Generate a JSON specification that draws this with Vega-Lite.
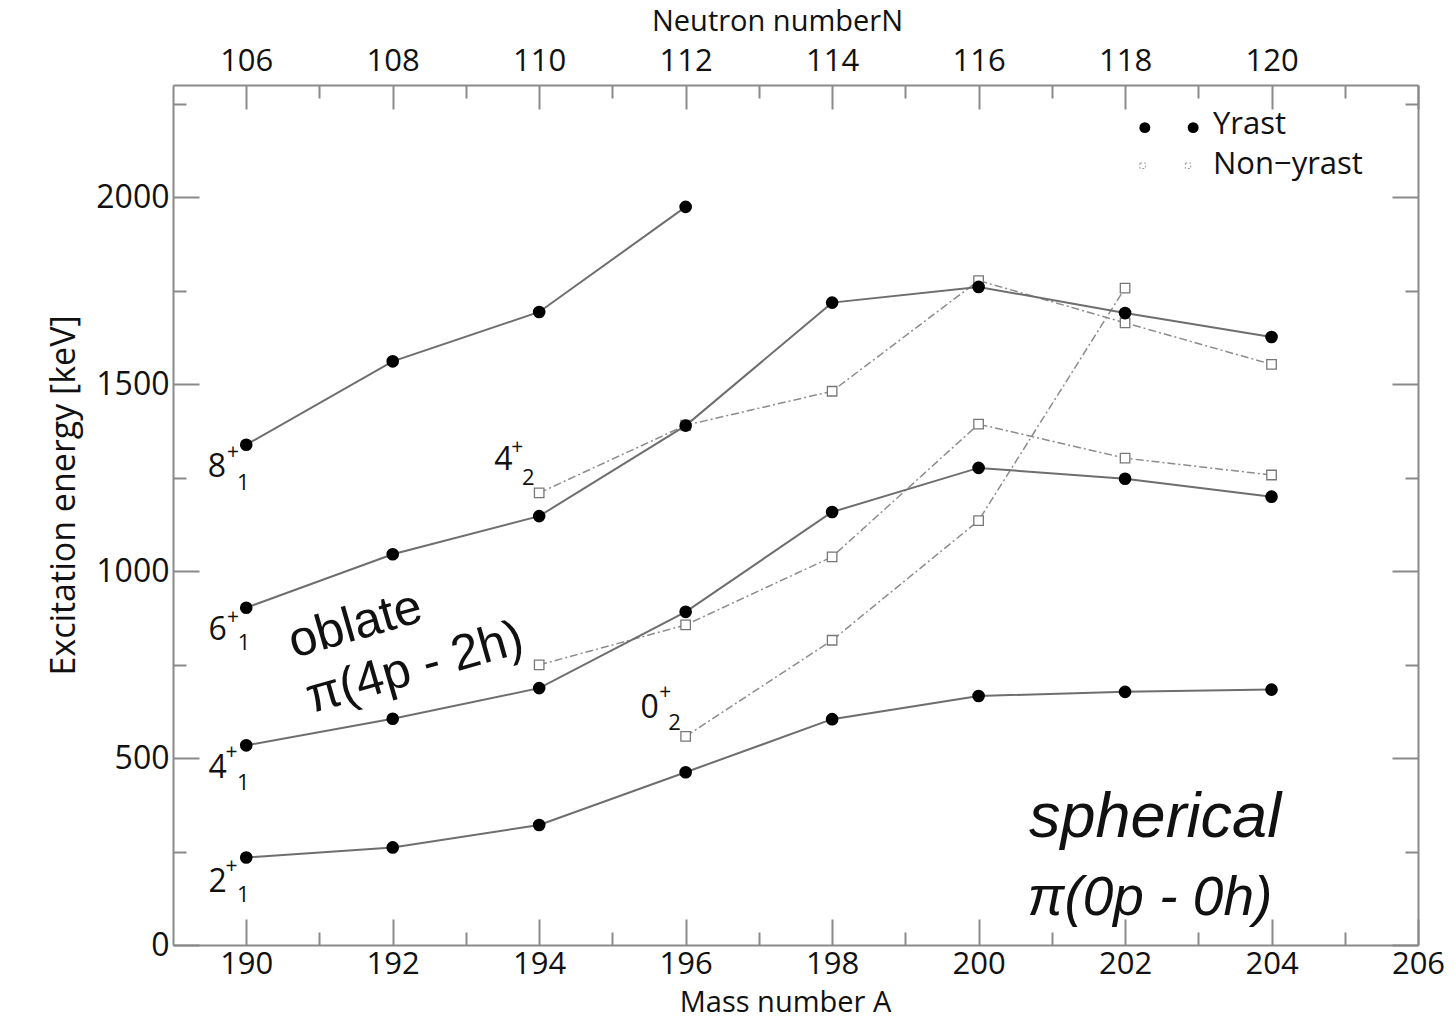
{
  "$schema": "https://vega.github.io/schema/vega-lite/v6.json",
  "width": 1245,
  "height": 860,
  "autosize": {"type": "none"},
  "padding": {"left": 173, "top": 85, "right": 37, "bottom": 76},
  "background": "white",
  "config": {
    "view": {"stroke": null},
    "axis": {
      "grid": false,
      "domainColor": "#8a8a8a",
      "domainWidth": 2,
      "tickColor": "#8a8a8a",
      "tickWidth": 2,
      "labelFont": "Open Sans",
      "labelFontSize": 32,
      "labelColor": "#111111",
      "labelFlush": false,
      "labelOverlap": false,
      "titleFont": "Open Sans",
      "titleFontSize": 30,
      "titleFontWeight": "normal",
      "titleColor": "#111111"
    }
  },
  "datasets": {
    "yrast": [
      {"A": 190, "E": 234, "band": "2+1"}, {"A": 192, "E": 261, "band": "2+1"}, {"A": 194, "E": 321, "band": "2+1"}, {"A": 196, "E": 462, "band": "2+1"},
      {"A": 198, "E": 604, "band": "2+1"}, {"A": 200, "E": 666, "band": "2+1"}, {"A": 202, "E": 677, "band": "2+1"}, {"A": 204, "E": 683, "band": "2+1"},
      {"A": 190, "E": 534, "band": "4+1"}, {"A": 192, "E": 605, "band": "4+1"}, {"A": 194, "E": 687, "band": "4+1"}, {"A": 196, "E": 891, "band": "4+1"},
      {"A": 198, "E": 1158, "band": "4+1"}, {"A": 200, "E": 1276, "band": "4+1"}, {"A": 202, "E": 1247, "band": "4+1"}, {"A": 204, "E": 1199, "band": "4+1"},
      {"A": 190, "E": 902, "band": "6+1"}, {"A": 192, "E": 1045, "band": "6+1"}, {"A": 194, "E": 1147, "band": "6+1"}, {"A": 196, "E": 1389, "band": "6+1"},
      {"A": 198, "E": 1718, "band": "6+1"}, {"A": 200, "E": 1760, "band": "6+1"}, {"A": 202, "E": 1690, "band": "6+1"}, {"A": 204, "E": 1626, "band": "6+1"},
      {"A": 190, "E": 1338, "band": "8+1"}, {"A": 192, "E": 1561, "band": "8+1"}, {"A": 194, "E": 1693, "band": "8+1"}, {"A": 196, "E": 1974, "band": "8+1"}
    ],
    "nonyrast": [
      {"A": 194, "E": 1209, "band": "4+2"}, {"A": 196, "E": 1390, "band": "4+2"}, {"A": 198, "E": 1481, "band": "4+2"},
      {"A": 200, "E": 1777, "band": "4+2"}, {"A": 202, "E": 1664, "band": "4+2"}, {"A": 204, "E": 1553, "band": "4+2"},
      {"A": 194, "E": 749, "band": "x"}, {"A": 196, "E": 856, "band": "x"}, {"A": 198, "E": 1038, "band": "x"},
      {"A": 200, "E": 1393, "band": "x"}, {"A": 202, "E": 1302, "band": "x"}, {"A": 204, "E": 1257, "band": "x"},
      {"A": 196, "E": 558, "band": "0+2"}, {"A": 198, "E": 815, "band": "0+2"}, {"A": 200, "E": 1135, "band": "0+2"}, {"A": 202, "E": 1757, "band": "0+2"}
    ],
    "stateMain": [
      {"A": 189.6, "E": 1278, "t": "8"},
      {"A": 189.61, "E": 842, "t": "6"},
      {"A": 189.61, "E": 473, "t": "4"},
      {"A": 189.61, "E": 168, "t": "2"},
      {"A": 193.51, "E": 1297, "t": "4"},
      {"A": 195.51, "E": 634, "t": "0"}
    ],
    "stateSup": [
      {"A": 189.82, "E": 1316, "t": "+"},
      {"A": 189.82, "E": 874, "t": "+"},
      {"A": 189.8, "E": 513, "t": "+"},
      {"A": 189.8, "E": 209, "t": "+"},
      {"A": 193.7, "E": 1329, "t": "+"},
      {"A": 195.72, "E": 674, "t": "+"}
    ],
    "stateSub": [
      {"A": 189.96, "E": 1235, "t": "1"},
      {"A": 189.97, "E": 807, "t": "1"},
      {"A": 189.96, "E": 433, "t": "1"},
      {"A": 189.96, "E": 134, "t": "1"},
      {"A": 193.85, "E": 1249, "t": "2"},
      {"A": 195.85, "E": 594, "t": "2"}
    ],
    "oblate": [
      {"A": 191.49, "E": 856, "t": "oblate"},
      {"A": 192.3, "E": 741, "t": "π(4p - 2h)"}
    ],
    "spherical1": [{"A": 202.41, "E": 340, "t": "spherical"}],
    "spherical2": [{"A": 202.34, "E": 126, "t": "π(0p - 0h)"}],
    "legendYrast": [{"A": 202.27, "E": 2186}, {"A": 202.93, "E": 2186}],
    "legendNon": [{"A": 202.24, "E": 2084}, {"A": 202.86, "E": 2084}],
    "legendText": [{"A": 203.2, "E": 2193, "t": "Yrast"}, {"A": 203.2, "E": 2087, "t": "Non−yrast"}]
  },
  "layer": [
    {
      "data": {"name": "nonyrast"},
      "mark": {"type": "line", "color": "#8c8c8c", "strokeWidth": 1.5, "strokeDash": [8, 3, 2, 3]},
      "encoding": {
        "x": {"field": "A", "type": "quantitative", "scale": {"domain": [189, 206], "nice": false, "zero": false},
              "axis": {"orient": "bottom", "values": [190, 192, 194, 196, 198, 200, 202, 204, 206], "format": "d", "ticks": false, "domain": true, "labelPadding": 4, "labelFontSize": 31, "title": "Mass number A", "titleFontSize": 29, "titlePadding": 9, "titleX": 612}},
        "y": {"field": "E", "type": "quantitative", "scale": {"domain": [0, 2300], "nice": false, "zero": false},
              "axis": {"orient": "left", "values": [0, 500, 1000, 1500, 2000], "format": "d", "ticks": false, "domain": true, "labelPadding": 4, "title": "Excitation energy [keV]", "titleFontSize": 34, "titlePadding": 14, "titleY": 410}},
        "detail": {"field": "band"}
      }
    },
    {
      "data": {"name": "nonyrast"},
      "mark": {"type": "point", "shape": "square", "size": 90, "filled": true, "fill": "white", "stroke": "#777777", "strokeWidth": 1.3, "opacity": 1},
      "encoding": {
        "x": {"field": "A", "type": "quantitative", "scale": {"domain": [189, 206], "nice": false, "zero": false},
              "axis": {"orient": "bottom", "values": [190, 192, 194, 196, 198, 200, 202, 204, 206], "labels": false, "domain": false, "tickSize": -26, "title": null}},
        "y": {"field": "E", "type": "quantitative", "scale": {"domain": [0, 2300], "nice": false, "zero": false},
              "axis": {"orient": "left", "values": [0, 500, 1000, 1500, 2000], "labels": false, "domain": false, "tickSize": -26, "title": null}}
      }
    },
    {
      "data": {"name": "yrast"},
      "mark": {"type": "line", "color": "#6e6e6e", "strokeWidth": 2},
      "encoding": {
        "x": {"field": "A", "type": "quantitative", "scale": {"domain": [189, 206], "nice": false, "zero": false},
              "axis": {"orient": "bottom", "values": [191, 193, 195, 197, 199, 201, 203, 205], "labels": false, "domain": false, "tickSize": -13, "title": null}},
        "y": {"field": "E", "type": "quantitative", "scale": {"domain": [0, 2300], "nice": false, "zero": false},
              "axis": {"orient": "left", "values": [250, 750, 1250, 1750, 2250], "labels": false, "domain": false, "tickSize": -13, "title": null}},
        "detail": {"field": "band"}
      }
    },
    {
      "data": {"name": "yrast"},
      "mark": {"type": "point", "shape": "circle", "size": 160, "filled": true, "color": "#000000", "opacity": 1},
      "encoding": {
        "x": {"field": "A", "type": "quantitative", "scale": {"domain": [189, 206], "nice": false, "zero": false},
              "axis": {"orient": "top", "values": [190, 192, 194, 196, 198, 200, 202, 204], "labelExpr": "format(datum.value - 84, 'd')", "labelDx": 7, "ticks": false, "domain": true, "labelPadding": 8, "labelFontSize": 31, "title": "Neutron numberN", "titleFontSize": 29, "titlePadding": 9, "titleX": 604}},
        "y": {"field": "E", "type": "quantitative", "scale": {"domain": [0, 2300], "nice": false, "zero": false},
              "axis": {"orient": "right", "values": [0, 500, 1000, 1500, 2000], "labels": false, "domain": true, "tickSize": -26, "title": null}}
      }
    },
    {
      "data": {"name": "stateMain"},
      "mark": {"type": "text", "font": "Open Sans", "fontSize": 32, "color": "#111111", "align": "center", "baseline": "middle"},
      "encoding": {
        "x": {"field": "A", "type": "quantitative", "scale": {"domain": [189, 206], "nice": false, "zero": false},
              "axis": {"orient": "top", "values": [190, 192, 194, 196, 198, 200, 202, 204, 206], "labels": false, "domain": false, "tickSize": -24, "title": null}},
        "y": {"field": "E", "type": "quantitative", "scale": {"domain": [0, 2300], "nice": false, "zero": false},
              "axis": {"orient": "right", "values": [250, 750, 1250, 1750, 2250], "labels": false, "domain": false, "tickSize": -13, "title": null}},
        "text": {"field": "t"}
      }
    },
    {
      "data": {"name": "stateSup"},
      "mark": {"type": "text", "font": "Open Sans", "fontSize": 21, "color": "#111111", "align": "center", "baseline": "middle"},
      "encoding": {
        "x": {"field": "A", "type": "quantitative", "scale": {"domain": [189, 206], "nice": false, "zero": false},
              "axis": {"orient": "top", "values": [191, 193, 195, 197, 199, 201, 203, 205], "labels": false, "domain": false, "tickSize": -13, "title": null}},
        "y": {"field": "E", "type": "quantitative", "scale": {"domain": [0, 2300], "nice": false, "zero": false}, "axis": null},
        "text": {"field": "t"}
      }
    },
    {
      "data": {"name": "stateSub"},
      "mark": {"type": "text", "font": "Open Sans", "fontSize": 22, "color": "#111111", "align": "center", "baseline": "middle"},
      "encoding": {
        "x": {"field": "A", "type": "quantitative", "scale": {"domain": [189, 206], "nice": false, "zero": false}, "axis": null},
        "y": {"field": "E", "type": "quantitative", "scale": {"domain": [0, 2300], "nice": false, "zero": false}, "axis": null},
        "text": {"field": "t"}
      }
    },
    {
      "data": {"name": "oblate"},
      "mark": {"type": "text", "font": "Liberation Sans", "fontSize": 50, "color": "#111111", "align": "center", "baseline": "middle", "angle": 344},
      "encoding": {
        "x": {"field": "A", "type": "quantitative", "scale": {"domain": [189, 206], "nice": false, "zero": false}, "axis": null},
        "y": {"field": "E", "type": "quantitative", "scale": {"domain": [0, 2300], "nice": false, "zero": false}, "axis": null},
        "text": {"field": "t"}
      }
    },
    {
      "data": {"name": "spherical1"},
      "mark": {"type": "text", "font": "Liberation Sans", "fontSize": 63, "fontStyle": "italic", "color": "#111111", "align": "center", "baseline": "middle"},
      "encoding": {
        "x": {"field": "A", "type": "quantitative", "scale": {"domain": [189, 206], "nice": false, "zero": false}, "axis": null},
        "y": {"field": "E", "type": "quantitative", "scale": {"domain": [0, 2300], "nice": false, "zero": false}, "axis": null},
        "text": {"field": "t"}
      }
    },
    {
      "data": {"name": "spherical2"},
      "mark": {"type": "text", "font": "Liberation Sans", "fontSize": 55, "fontStyle": "italic", "color": "#111111", "align": "center", "baseline": "middle"},
      "encoding": {
        "x": {"field": "A", "type": "quantitative", "scale": {"domain": [189, 206], "nice": false, "zero": false}, "axis": null},
        "y": {"field": "E", "type": "quantitative", "scale": {"domain": [0, 2300], "nice": false, "zero": false}, "axis": null},
        "text": {"field": "t"}
      }
    },
    {
      "data": {"name": "legendYrast"},
      "mark": {"type": "point", "shape": "circle", "size": 120, "filled": true, "color": "#000000", "opacity": 1},
      "encoding": {
        "x": {"field": "A", "type": "quantitative", "scale": {"domain": [189, 206], "nice": false, "zero": false}, "axis": null},
        "y": {"field": "E", "type": "quantitative", "scale": {"domain": [0, 2300], "nice": false, "zero": false}, "axis": null}
      }
    },
    {
      "data": {"name": "legendNon"},
      "mark": {"type": "point", "shape": "square", "size": 30, "filled": false, "stroke": "#999999", "strokeWidth": 1, "strokeDash": [2, 2], "opacity": 1},
      "encoding": {
        "x": {"field": "A", "type": "quantitative", "scale": {"domain": [189, 206], "nice": false, "zero": false}, "axis": null},
        "y": {"field": "E", "type": "quantitative", "scale": {"domain": [0, 2300], "nice": false, "zero": false}, "axis": null}
      }
    },
    {
      "data": {"name": "legendText"},
      "mark": {"type": "text", "font": "Open Sans", "fontSize": 31, "color": "#111111", "align": "left", "baseline": "middle"},
      "encoding": {
        "x": {"field": "A", "type": "quantitative", "scale": {"domain": [189, 206], "nice": false, "zero": false}, "axis": null},
        "y": {"field": "E", "type": "quantitative", "scale": {"domain": [0, 2300], "nice": false, "zero": false}, "axis": null},
        "text": {"field": "t"}
      }
    }
  ],
  "resolve": {"axis": {"x": "independent", "y": "independent"}}
}
